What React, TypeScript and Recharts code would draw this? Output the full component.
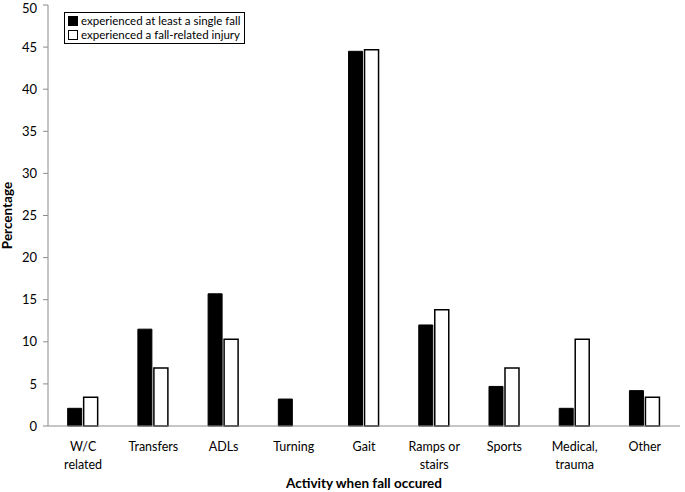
import { BarChart, Bar, XAxis, YAxis } from "recharts";

const categories = [
  "W/C\nrelated",
  "Transfers",
  "ADLs",
  "Turning",
  "Gait",
  "Ramps or\nstairs",
  "Sports",
  "Medical,\ntrauma",
  "Other",
];
const singleFall = [2.1, 11.5, 15.7, 3.2, 44.5, 12.0, 4.7, 2.1, 4.2];
const fallInjury = [3.4, 6.9, 10.3, 0, 44.7, 13.8, 6.9, 10.3, 3.4];
const yTicks = [0, 5, 10, 15, 20, 25, 30, 35, 40, 45, 50];
const boundaryTicks = [0, 1, 2, 3, 4, 5, 6, 7, 8, 9];
const legendLabels = ["experienced at least a single fall", "experienced a fall-related injury"];

const data = categories.map((name, i) => ({
  name,
  single: singleFall[i],
  injury: fallInjury[i],
}));

const FONT = "Lato, 'Open Sans', sans-serif";

function CategoryTick({ x, y, payload }: any) {
  const lines = String(payload.value).split("\n");
  return (
    <text x={x} y={y} textAnchor="middle" fontFamily={FONT} fontSize={12.5} fill="#000">
      {lines.map((l, i) => (
        <tspan key={i} x={x} dy={i === 0 ? 17 : 18}>
          {l}
        </tspan>
      ))}
    </text>
  );
}

function LegendBox() {
  const fills = ["#000", "#fff"];
  return (
    <div
      style={{
        position: "absolute",
        left: 64,
        top: 12,
        border: "1.5px solid #000",
        background: "#fff",
        padding: "1px 4px 1px 3px",
        fontFamily: FONT,
        fontSize: 11.5,
        lineHeight: "14px",
        whiteSpace: "nowrap",
      }}
    >
      {legendLabels.map((label, i) => (
        <div key={label} style={{ display: "flex", alignItems: "center" }}>
          <span
            style={{ width: 8, height: 8, background: fills[i], border: "1px solid #000", marginRight: 3 }}
          />
          {label}
        </div>
      ))}
    </div>
  );
}

export default function App() {
  return (
    <div style={{ position: "absolute", left: 0, top: 0, width: 685, height: 492, background: "#fff" }}>
      <BarChart
        width={685}
        height={492}
        data={data}
        margin={{ top: 5, right: 5, bottom: 64, left: 0 }}
        barCategoryGap="28%"
        barGap={2}
      >
        <XAxis
          dataKey="name"
          interval={0}
          tick={<CategoryTick />}
          tickLine={false}
          axisLine={{ stroke: "#8c8c8c" }}
          height={1}
          label={{
            value: "Activity when fall occured",
            position: "insideBottom",
            offset: -61,
            style: { fontFamily: FONT, fontSize: 13.5, fontWeight: 700, fill: "#000" },
          }}
        />
        <XAxis
          xAxisId="bounds"
          type="number"
          domain={[0, 9]}
          ticks={boundaryTicks}
          tick={false}
          axisLine={false}
          tickLine={{ stroke: "#8c8c8c" }}
          tickSize={5}
          height={1}
        />
        <YAxis
          domain={[0, 50]}
          ticks={yTicks}
          width={48}
          tickSize={5}
          tickLine={{ stroke: "#8c8c8c" }}
          axisLine={{ stroke: "#8c8c8c" }}
          tick={{ fontFamily: FONT, fontSize: 13, fill: "#000", dx: -4 }}
          label={{
            value: "Percentage",
            angle: -90,
            position: "insideLeft",
            offset: 7,
            style: { fontFamily: FONT, fontSize: 13.5, fontWeight: 700, fill: "#000", textAnchor: "middle" },
          }}
        />
        <Bar dataKey="single" fill="#000" stroke="#000" strokeWidth={1} isAnimationActive={false} />
        <Bar dataKey="injury" fill="#fff" stroke="#000" strokeWidth={1.5} isAnimationActive={false} />
      </BarChart>
      <LegendBox />
    </div>
  );
}
